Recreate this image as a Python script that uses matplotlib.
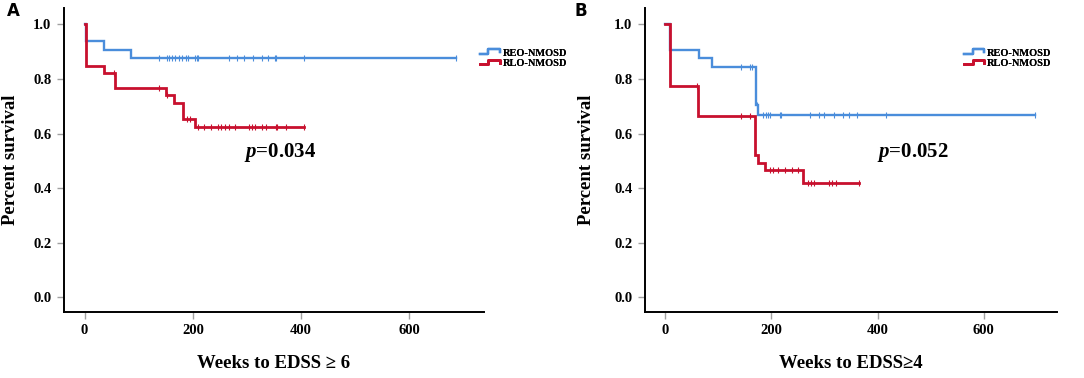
import numpy as np
import matplotlib
matplotlib.use("Agg")
from matplotlib import pyplot as plt
from matplotlib.lines import Line2D
from matplotlib.legend_handler import HandlerBase

plt.rcParams['font.family'] = ['Liberation Serif', 'DejaVu Serif']
plt.rcParams['mathtext.fontset'] = 'custom'
plt.rcParams['mathtext.rm'] = 'Liberation Serif:bold'
plt.rcParams['mathtext.it'] = 'Liberation Serif:italic:bold'

# Panel A: weeks to EDSS >= 6
a_reo_t = [0, 3, 35, 85]
a_reo_s = [1.0, 0.938, 0.906, 0.875]
a_reo_end = 686
a_reo_cens = [137, 153, 156, 162, 168, 174, 180, 187, 192, 204, 207, 210,
              266, 281, 295, 312, 327, 338, 351, 354, 406, 686]

a_rlo_t = [0, 3, 35, 57, 151, 166, 182, 204]
a_rlo_s = [1.0, 0.846, 0.820, 0.768, 0.742, 0.713, 0.654, 0.623]
a_rlo_end = 406
a_rlo_cens = [55, 137, 153, 189, 195, 210, 221, 233, 246, 252, 260, 267, 278,
              303, 309, 315, 328, 335, 353, 356, 372, 406]

# Panel B: weeks to EDSS >= 4
b_reo_t = [0, 9, 63, 88, 172, 175]
b_reo_s = [1.0, 0.907, 0.877, 0.845, 0.704, 0.667]
b_reo_end = 696
b_reo_cens = [143, 159, 163, 173, 185, 189, 194, 197, 216, 219, 273, 289, 300,
              318, 334, 346, 362, 415, 696]

b_rlo_t = [0, 9, 62, 170, 175, 188, 259]
b_rlo_s = [1.0, 0.773, 0.664, 0.521, 0.491, 0.466, 0.418]
b_rlo_end = 365
b_rlo_cens = [60, 143, 159, 197, 204, 213, 225, 238, 250, 269, 275, 281, 309,
              315, 322, 365]

groups = ['REO-NMOSD', 'RLO-NMOSD']
blue = '#4a8ddb'
red = '#c8102e'
grey = '#a0a0a0'


# step shaped legend symbol like in SPSS output
class StepHandler(HandlerBase):
    def create_artists(self, legend, orig_handle, xdescent, ydescent,
                       width, height, fontsize, trans):
        xs = np.array([0, 0.42, 0.42, 1.0, 1.0]) * width - xdescent
        ys = np.array([0.25, 0.25, 0.85, 0.85, 0.45]) * height - ydescent
        ln = Line2D(xs, ys, color=orig_handle.get_color(),
                    lw=orig_handle.get_linewidth(), transform=trans)
        return [ln]


def km(ax, t, s, end, cens, color, lw):
    xs = list(t) + [end]
    ys = list(s) + [s[-1]]
    line, = ax.step(xs, ys, where='post', color=color, lw=lw, solid_joinstyle='miter')
    idx = np.searchsorted(t, cens, side='right') - 1
    cy = np.array(s)[idx]
    ax.plot(cens, cy, linestyle='none', marker='|', color=color,
            markersize=4, markeredgewidth=0.8)
    return line


fig = plt.figure(figsize=(10.84, 3.78), dpi=100)
W, H = 1084.0, 378.0

axA = fig.add_axes([64 / W, 66 / H, 420 / W, 304 / H])
axB = fig.add_axes([645 / W, 66 / H, 412 / W, 304 / H])

panels = [
    (axA, a_reo_t, a_reo_s, a_reo_end, a_reo_cens, a_rlo_t, a_rlo_s, a_rlo_end, a_rlo_cens,
     'Weeks to EDSS \u2265 6', '$p$=0.034', 295, 0.529, 0.99, -0.107),
    (axB, b_reo_t, b_reo_s, b_reo_end, b_reo_cens, b_rlo_t, b_rlo_s, b_rlo_end, b_rlo_cens,
     'Weeks to EDSS\u22654', '$p$=0.052', 399, 0.532, 0.775, -0.122),
]

for (ax, t1, s1, e1, c1, t2, s2, e2, c2, xlab, ptxt, px, py,
     legx, ylx) in panels:
    l1 = km(ax, t1, s1, e1, c1, blue, 1.7)
    l2 = km(ax, t2, s2, e2, c2, red, 2.0)

    ax.set_xlim(-38, 738)
    ax.set_ylim(-0.054, 1.06)
    ax.set_xticks([0, 200, 400, 600])
    ax.set_yticks([0.0, 0.2, 0.4, 0.6, 0.8, 1.0])
    ax.set_yticklabels(['0.0', '0.2', '0.4', '0.6', '0.8', '1.0'])
    for sp in ['top', 'right']:
        ax.spines[sp].set_visible(False)
    for sp in ['left', 'bottom']:
        ax.spines[sp].set_linewidth(1.4)
    ax.tick_params(axis='both', length=5, width=1.0, color=grey,
                   labelsize=10.5, pad=4)
    for lab in ax.get_xticklabels() + ax.get_yticklabels():
        lab.set_fontweight('bold')

    ax.set_xlabel(xlab, fontsize=13.5, fontweight='bold')
    ax.xaxis.set_label_coords(0.5, -0.143)
    ax.set_ylabel('Percent survival', fontsize=13.5, fontweight='bold')
    ax.yaxis.set_label_coords(ylx, 0.5)

    ax.text(px, py, ptxt, fontsize=15, fontweight='bold', ha='left', va='center')

    leg = ax.legend([l1, l2], groups, handler_map={Line2D: StepHandler()},
                    loc='center left', bbox_to_anchor=(legx, 0.835),
                    frameon=False, prop={'size': 7.5, 'weight': 'bold'},
                    handlelength=1.9, handletextpad=0.3, labelspacing=0.1,
                    borderaxespad=0, borderpad=0)
    ax.add_artist(leg)

fig.text(13.5 / W, 1 - 11 / H, 'A', fontsize=12, fontweight='bold',
         family='DejaVu Sans', ha='center', va='center')
fig.text(581 / W, 1 - 11 / H, 'B', fontsize=12, fontweight='bold',
         family='DejaVu Sans', ha='center', va='center')

fig.savefig('out.png', dpi=100)
